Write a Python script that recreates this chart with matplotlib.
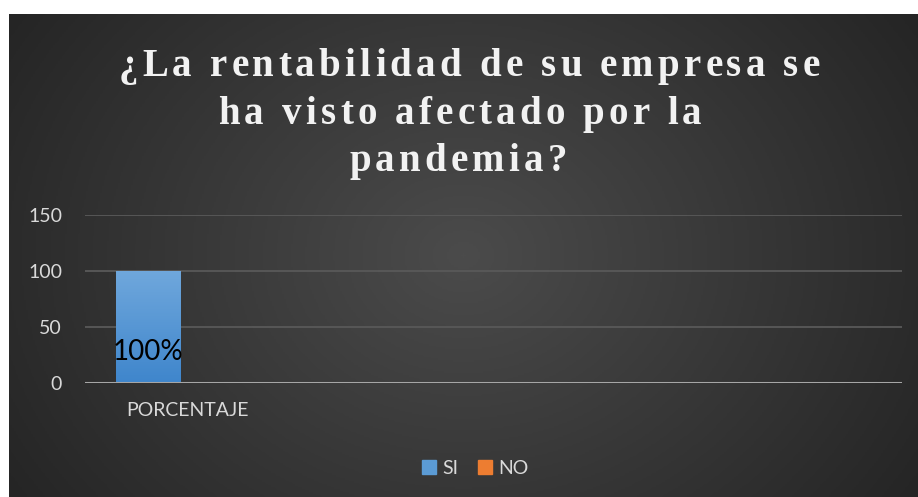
import numpy as np
import matplotlib.pyplot as plt
from matplotlib.colors import LinearSegmentedColormap
from matplotlib.patches import Patch

categorias = ['PORCENTAJE', '', '', '']
si = [100, np.nan, np.nan, np.nan]
no = [0, np.nan, np.nan, np.nan]
etiquetas_si = ['100%', '', '', '']
ticks_y = [0, 50, 100, 150]
titulo = ['¿La rentabilidad de su empresa se', 'ha visto afectado por la', 'pandemia?']

W, H = 918, 497
fig = plt.figure(figsize=(W / 100, H / 100), dpi=100, facecolor='white')

# fondo oscuro con degradado radial
bg = fig.add_axes([9 / W, 0, (W - 9) / W, (H - 14) / H])
yy, xx = np.mgrid[0:1:300j, 0:1:500j]
r = np.clip(np.sqrt(((xx - 0.5) / 0.62) ** 2 + ((yy - 0.5) / 0.95) ** 2), 0, 1)
fondo = LinearSegmentedColormap.from_list('fondo', ['#4b4b4b', '#252525'])
bg.imshow(r, cmap=fondo, extent=[0, 1, 0, 1], aspect='auto', origin='lower')
bg.axis('off')

ax = fig.add_axes([85 / W, 114 / H, 817 / W, 168 / H])
ax.patch.set_alpha(0)

x = np.arange(len(categorias))
w = 0.314
desp = -0.034
barras_si = ax.bar(x - w / 2 + desp, si, w, color='#5b9bd5', zorder=2)
barras_no = ax.bar(x + w / 2 + desp, no, w, color='#ed7d31', zorder=2)

# degradado vertical dentro de las barras
grad_si = LinearSegmentedColormap.from_list('si', ['#3f86cc', '#6fa7dc'])
for b in barras_si:
    h = b.get_height()
    if not np.isfinite(h) or h <= 0:
        continue
    im = ax.imshow(np.linspace(0, 1, 100).reshape(-1, 1), cmap=grad_si,
                   extent=[b.get_x(), b.get_x() + b.get_width(), 0, h],
                   aspect='auto', origin='lower', zorder=3)
    im.set_clip_path(b)

for xi, v, et in zip(x, si, etiquetas_si):
    if et:
        ax.annotate(et, xy=(xi - w / 2 + desp, 0), xytext=(0, 22), textcoords='offset points',
                    ha='center', va='center', fontsize=20, family='Lato', color='black', zorder=5)

ax.set_xlim(-0.5, len(categorias) - 0.5)
ax.set_ylim(0, 150)
ax.set_yticks(ticks_y)
ax.set_xticks(x, categorias)
ax.yaxis.grid(True, color='#595959', lw=1.3)
ax.set_axisbelow(True)
ax.axhline(0, color='#a6a6a6', lw=2.2, zorder=4)
for s in ax.spines.values():
    s.set_visible(False)
ax.tick_params(axis='y', length=0, pad=16.5, labelsize=14, labelcolor='#d9d9d9')
ax.tick_params(axis='x', length=0, pad=14, labelsize=14, labelcolor='#d9d9d9')
for t in ax.get_xticklabels() + ax.get_yticklabels():
    t.set_family('Lato')

fig.legend(handles=[Patch(color='#5b9bd5', label='SI'), Patch(color='#ed7d31', label='NO')],
           loc='center', bbox_to_anchor=(475 / W, 1 - 468 / H), ncol=2, frameon=False,
           handlelength=0.75, handleheight=0.75, handletextpad=0.3, columnspacing=1.0,
           prop={'family': 'Lato', 'size': 14}, labelcolor='#d9d9d9')

# titulo con espaciado entre letras
renderer = fig.canvas.get_renderer()
props = dict(family='Liberation Serif', weight='bold', size=28)


def ancho(s):
    t = fig.text(0, 0, s + 'l', **props)
    a = t.get_window_extent(renderer).width
    t.remove()
    return a


extra = 4.2
for linea, centro, base in zip(titulo, [469, 460, 458], [76, 124, 171]):
    b0 = ancho('')
    pos = [ancho(linea[:i]) - b0 for i in range(len(linea) + 1)]
    total = pos[-1] + extra * (len(linea) - 1)
    x0 = centro - total / 2
    for i, c in enumerate(linea):
        fig.text((x0 + pos[i] + extra * i) / W, 1 - base / H, c, color='#f2f2f2',
                 ha='left', va='baseline', **props)

fig.savefig('out.png', dpi=100, facecolor='white')
